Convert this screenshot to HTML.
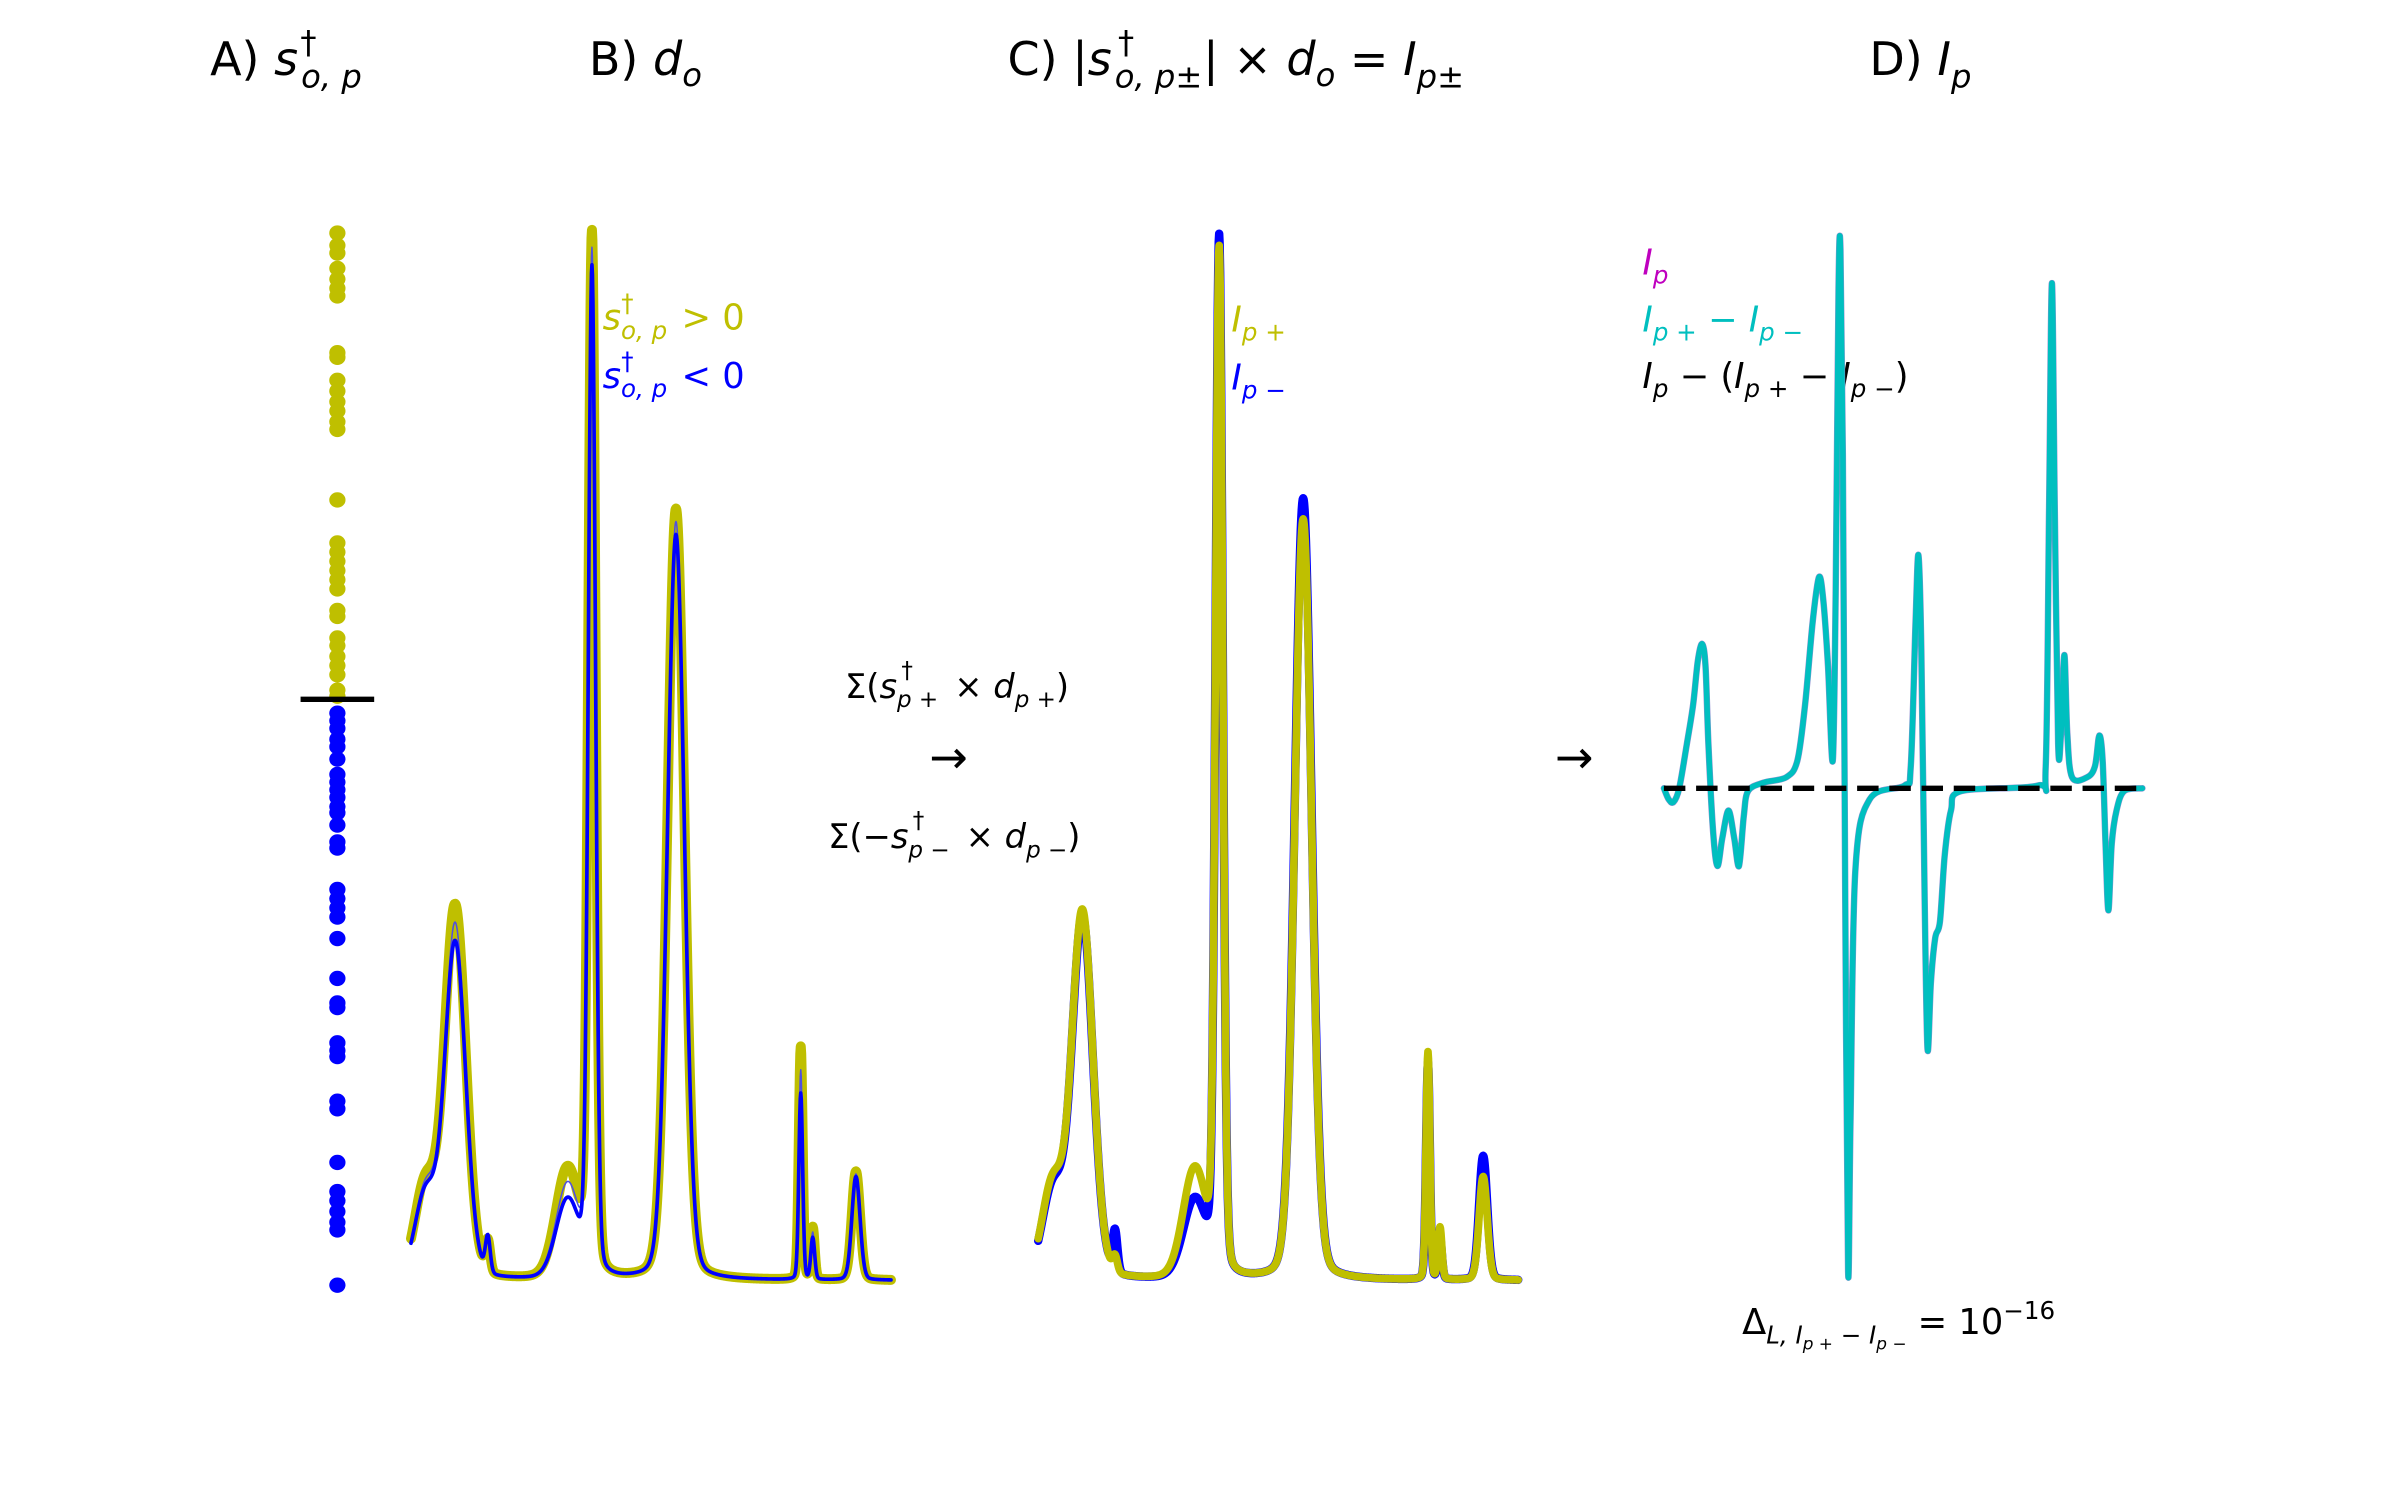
<!DOCTYPE html>
<html><head><meta charset="utf-8"><style>
html,body{margin:0;padding:0;background:#fff;}
svg{display:block;}
text{font-family:"DejaVu Sans","Liberation Sans",sans-serif;}
.it{font-style:italic;}
</style></head><body>
<svg id="fig" width="2400" height="1500" viewBox="0 0 1565 978.1" preserveAspectRatio="none" xmlns="http://www.w3.org/2000/svg">
<rect width="1565" height="978.1" fill="#fff"/>
<!-- titles -->
<text x="137" y="49" font-size="30">A) <tspan class="it">s</tspan><tspan class="it" font-size="21" dx="2" dy="8">o, p</tspan><tspan font-size="21" dx="-40" dy="-22">†</tspan></text>
<text x="384" y="49" font-size="30">B) <tspan class="it">d</tspan><tspan class="it" font-size="21" dy="7">o</tspan></text>
<text x="657" y="49" font-size="30">C) |<tspan class="it">s</tspan><tspan class="it" font-size="21" dx="2" dy="8">o, p</tspan><tspan font-size="21" dy="0">±</tspan><tspan font-size="21" dx="-55" dy="-22">†</tspan><tspan dx="45" dy="14">| × </tspan><tspan class="it">d</tspan><tspan class="it" font-size="21" dy="7">o</tspan><tspan dy="-7"> = </tspan><tspan class="it">I</tspan><tspan class="it" font-size="21" dy="8">p</tspan><tspan font-size="21">±</tspan></text>
<text x="1219" y="49" font-size="30">D) <tspan class="it">I</tspan><tspan class="it" font-size="21" dy="8">p</tspan></text>

<!-- legend B -->
<text x="393" y="215" font-size="23" fill="#bfbf00"><tspan class="it">s</tspan><tspan class="it" font-size="16" dy="6">o, p</tspan><tspan font-size="16" dx="-30" dy="-18">†</tspan><tspan dx="24" dy="12"> &gt; 0</tspan></text>
<text x="393" y="253" font-size="23" fill="#0000ff"><tspan class="it">s</tspan><tspan class="it" font-size="16" dy="6">o, p</tspan><tspan font-size="16" dx="-30" dy="-18">†</tspan><tspan dx="24" dy="12"> &lt; 0</tspan></text>
<!-- legend C -->
<text x="803" y="216" font-size="23" fill="#bfbf00"><tspan class="it">I</tspan><tspan class="it" font-size="16" dy="6">p +</tspan></text>
<text x="803" y="254" font-size="23" fill="#0000ff"><tspan class="it">I</tspan><tspan class="it" font-size="16" dy="6">p −</tspan></text>
<!-- legend D -->
<text x="1071" y="179" font-size="23" fill="#bf00bf"><tspan class="it">I</tspan><tspan class="it" font-size="16" dy="6">p</tspan></text>
<text x="1071" y="216" font-size="23" fill="#00bfbf"><tspan class="it">I</tspan><tspan class="it" font-size="16" dy="6">p +</tspan><tspan dy="-6"> − </tspan><tspan class="it">I</tspan><tspan class="it" font-size="16" dy="6">p −</tspan></text>
<text x="1071" y="253" font-size="23" fill="#000"><tspan class="it">I</tspan><tspan class="it" font-size="16" dy="6">p</tspan><tspan dy="-6"> − (</tspan><tspan class="it">I</tspan><tspan class="it" font-size="16" dy="6">p +</tspan><tspan dy="-6"> − </tspan><tspan class="it">I</tspan><tspan class="it" font-size="16" dy="6">p −</tspan><tspan dy="-6">)</tspan></text>

<!-- middle annotations -->
<text x="551" y="455" font-size="22">Σ(<tspan class="it">s</tspan><tspan class="it" font-size="15" dy="6">p +</tspan><tspan font-size="15" dx="-24" dy="-19">†</tspan><tspan dx="20" dy="13"> × </tspan><tspan class="it">d</tspan><tspan class="it" font-size="15" dy="6">p +</tspan><tspan dy="-6">)</tspan></text>
<text x="540" y="553" font-size="22">Σ(−<tspan class="it">s</tspan><tspan class="it" font-size="15" dy="6">p −</tspan><tspan font-size="15" dx="-24" dy="-19">†</tspan><tspan dx="20" dy="13"> × </tspan><tspan class="it">d</tspan><tspan class="it" font-size="15" dy="6">p −</tspan><tspan dy="-6">)</tspan></text>
<text x="606" y="504" font-size="30">→</text>
<text x="1014" y="504" font-size="30">→</text>
<text x="1136" y="870" font-size="23">Δ<tspan class="it" font-size="16" dy="6">L, I</tspan><tspan class="it" font-size="11" dy="4">p +</tspan><tspan font-size="16" dy="-4"> − </tspan><tspan class="it" font-size="16">I</tspan><tspan class="it" font-size="11" dy="4">p −</tspan><tspan dy="-10"> = 10</tspan><tspan font-size="16" dy="-10">−16</tspan></text>

<g id="plots"></g>
</svg>
<script>
// ---- data ----
const sPositive = [3.04,2.96,2.91,2.81,2.74,2.68,2.63,2.26,2.23,2.08,2.01,1.94,1.88,1.81,1.76,1.30,1.02,0.96,0.90,0.84,0.78,0.72,0.58,0.54,0.40,0.35,0.28,0.22,0.16,0.06,0.02];
const sNegative = [-0.09,-0.14,-0.19,-0.26,-0.31,-0.39,-0.49,-0.54,-0.59,-0.64,-0.70,-0.74,-0.82,-0.93,-0.97,-1.24,-1.30,-1.36,-1.42,-1.56,-1.82,-1.98,-2.01,-2.24,-2.29,-2.33,-2.62,-2.67,-3.02,-3.21,-3.27,-3.34,-3.41,-3.46,-3.82];
const peakCenters = [3.0, 9.2, 16.0, 32.6, 37.7, 55.2, 81.2, 83.7, 92.7];
const peakWidths  = [2.2, 2.2, 0.5, 2.4, 0.75, 1.75, 0.4, 0.4, 0.85];
const heightsBPos = [0.090, 0.360, 0.030, 0.105, 1.00, 0.745, 0.225, 0.05, 0.105];
const heightsBNeg = [0.080, 0.325, 0.035, 0.075, 0.97, 0.720, 0.180, 0.04, 0.100];
const heightsCPos = [0.090, 0.355, 0.015, 0.105, 0.985, 0.735, 0.220, 0.05, 0.100];
const heightsCNeg = [0.085, 0.350, 0.040, 0.075, 1.000, 0.755, 0.210, 0.04, 0.120];
const diffX = [0,1,2,3.2,4.8,6.1,7.1,8.0,8.7,9.3,10.3,11.2,12.2,13.5,14.7,15.7,16.7,17.6,20.8,25.6,27.9,29.5,31.1,32.4,33.3,34.3,35.3,35.9,36.5,36.9,37.4,37.9,38.5,39.0,40.0,43.0,50.3,51.6,52.6,53.2,53.8,54.5,55.1,55.8,56.7,57.7,58.7,60.0,62.2,78.2,79.8,80.5,81.1,81.7,82.4,83.0,83.7,84.3,85.3,88.5,90.1,91.0,91.7,92.3,92.9,93.6,94.6,96.2,100];
const diffY = [0,-0.02,-0.025,0,0.08,0.15,0.23,0.26,0.22,0.08,-0.08,-0.14,-0.09,-0.04,-0.09,-0.14,-0.05,-0.005,0.01,0.02,0.05,0.15,0.30,0.38,0.34,0.22,0.05,0.35,0.90,0.97,0.6,-0.2,-0.87,-0.6,-0.15,-0.02,0.005,0.04,0.30,0.42,0.25,-0.2,-0.47,-0.35,-0.27,-0.24,-0.12,-0.04,-0.005,0.005,0.04,0.5,0.91,0.5,0.08,0.10,0.24,0.10,0.02,0.02,0.04,0.095,0.05,-0.10,-0.22,-0.10,-0.04,-0.005,0];

// ---- helpers ----
const NS='http://www.w3.org/2000/svg';
const g=document.getElementById('plots');
function spectrum(heights,x){let v=0;for(let i=0;i<peakCenters.length;i++){const d=(x-peakCenters[i])/peakWidths[i];v+=heights[i]*(0.88*Math.exp(-0.5*d*d)+0.12/(1+d*d*0.6));}return v;}
function makeAxis(x0,x1,yBase,yTop){return{sx:v=>x0+(x1-x0)*v/100,sy:v=>yBase-(yBase-yTop)*v};}
function specPath(ax,heights){let d='';for(let i=0;i<=1000;i++){const x=i/10;d+=(i?'L':'M')+ax.sx(x).toFixed(2)+' '+ax.sy(spectrum(heights,x)).toFixed(2);}return d;}
function smoothPath(pts){let d='M'+pts[0][0].toFixed(2)+' '+pts[0][1].toFixed(2);for(let i=0;i<pts.length-1;i++){const p0=pts[Math.max(0,i-1)],p1=pts[i],p2=pts[i+1],p3=pts[Math.min(pts.length-1,i+2)];const t=0.16;const c1=[p1[0]+(p2[0]-p0[0])*t,p1[1]+(p2[1]-p0[1])*t];const c2=[p2[0]-(p3[0]-p1[0])*t,p2[1]-(p3[1]-p1[1])*t];d+='C'+c1[0].toFixed(2)+' '+c1[1].toFixed(2)+' '+c2[0].toFixed(2)+' '+c2[1].toFixed(2)+' '+p2[0].toFixed(2)+' '+p2[1].toFixed(2);}return d;}
function addPath(d,stroke,w,name){const p=document.createElementNS(NS,'path');p.setAttribute('d',d);p.setAttribute('fill','none');p.setAttribute('stroke',stroke);p.setAttribute('stroke-width',w);p.setAttribute('stroke-linejoin','round');p.setAttribute('stroke-linecap','round');


g.appendChild(p);return p;}

// ---- panel A ----
const syA=v=>456-100*v;
function dot(v,color,name){const c=document.createElementNS(NS,'ellipse');c.setAttribute('cx',220);c.setAttribute('cy',syA(v));c.setAttribute('rx',5.3);c.setAttribute('ry',5);c.setAttribute('fill',color);


g.appendChild(c);}
sPositive.forEach(v=>dot(v,'#bfbf00','dot-positive'));
sNegative.forEach(v=>dot(v,'#0000ff','dot-negative'));
const zl=document.createElementNS(NS,'line');zl.setAttribute('x1',196);zl.setAttribute('x2',244);zl.setAttribute('y1',syA(0));zl.setAttribute('y2',syA(0));zl.setAttribute('stroke','#000');zl.setAttribute('stroke-width',3.5);


g.appendChild(zl);

// ---- panel B ----
const axB=makeAxis(268,581,835,160);
addPath(specPath(axB,heightsBPos),'#bfbf00',6.5,'spectrum-b-positive');
addPath(specPath(axB,heightsBPos.map((h,i)=>(h+heightsBNeg[i])/2)),'#5050e0',1,'spectrum-b-negative-variant');
addPath(specPath(axB,heightsBNeg),'#0000ff',2.4,'spectrum-b-negative');

// ---- panel C ----
const axC=makeAxis(677,990,835,160);
addPath(specPath(axC,heightsCNeg),'#0000ff',5.5,'spectrum-c-minus');
addPath(specPath(axC,heightsCPos),'#bfbf00',5,'spectrum-c-plus');

// ---- panel D ----
const axD={sx:v=>1085+312*v/100,sy:v=>514-362*v};
const ptsD=diffX.map((x,i)=>[axD.sx(x),axD.sy(diffY[i])]);
const dd=smoothPath(ptsD);
addPath(dd,'#9090d0',4.2,'residual-line');
addPath(dd,'#00bfbf',3.6,'difference-line');
const zd=document.createElementNS(NS,'line');zd.setAttribute('x1',1085);zd.setAttribute('x2',1397);zd.setAttribute('y1',axD.sy(0));zd.setAttribute('y2',axD.sy(0));zd.setAttribute('stroke','#000');zd.setAttribute('stroke-width',3.5);zd.setAttribute('stroke-dasharray','14 7');


g.appendChild(zd);
</script>
</body></html>
